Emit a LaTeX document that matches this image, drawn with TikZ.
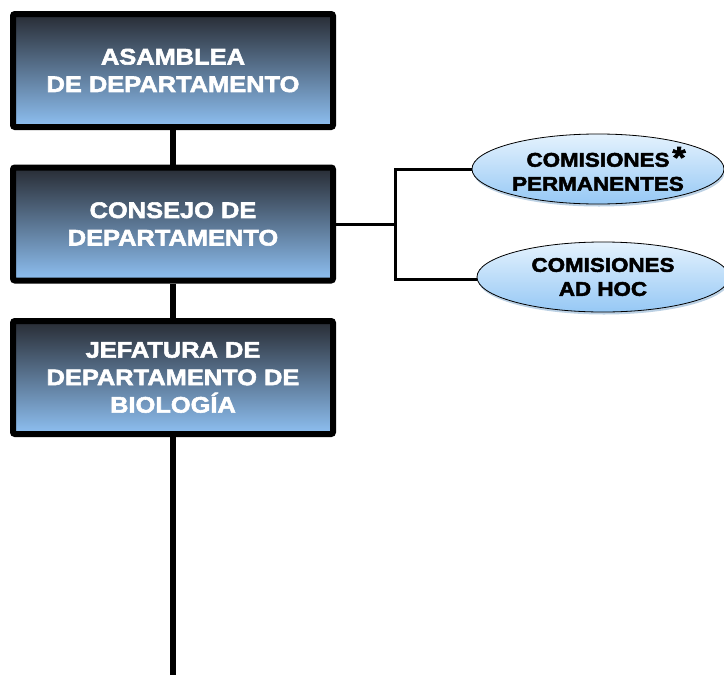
\documentclass[tikz,border=0pt]{standalone}
\usepackage{fontspec}
\newfontfamily\orgfont[FakeStretch=1.13,FakeBold=2.5]{Liberation Sans Bold}
\usetikzlibrary{shadows,shapes.geometric}
\definecolor{boxtop}{RGB}{40,44,52}
\definecolor{boxmid}{RGB}{88,114,144}
\definecolor{boxbot}{RGB}{142,192,242}
\definecolor{elltop}{RGB}{228,242,253}
\definecolor{ellbot}{RGB}{150,200,245}
\begin{document}
\begin{tikzpicture}[x=1pt,y=-1pt]
    \tikzstyle{orgbox}=[draw=black,line width=6pt,rounded corners=2pt,
      top color=boxtop,middle color=boxmid,bottom color=boxbot,
      minimum width=320pt,minimum height=113pt,inner sep=0pt,
      text=white,align=center,font=\orgfont\fontsize{22.5}{27.5}\selectfont]
    \tikzstyle{comision}=[ellipse,draw=black,line width=0.8pt,
      top color=elltop,bottom color=ellbot,
      drop shadow={shadow xshift=1pt,shadow yshift=-2.5pt,fill=ellbot!70!gray,opacity=0.6},
      minimum width=252pt,minimum height=70pt,inner sep=0pt,
      align=center,font=\orgfont\fontsize{19.8}{24}\selectfont]
    \useasboundingbox (0,0) rectangle (724,675);
    \node [orgbox] (asamblea) at (173,70.5) {ASAMBLEA\\DE DEPARTAMENTO};
    \node [orgbox] (consejo) at (173,224) {CONSEJO DE\\DEPARTAMENTO};
    \node [orgbox] (jefatura) at (173,377.5) {JEFATURA DE\\DEPARTAMENTO DE\\BIOLOGÍA};
    \node [comision] (permanentes) at (598,169) {COMISIONES\rlap{\kern3pt\fontsize{30}{30}\selectfont\raisebox{-1pt}{*}}\\PERMANENTES};
    \node [comision] (adhoc) at (603,277) {COMISIONES\\AD HOC};
    \coordinate (fondo) at (173,675);
    % lineas
    \draw [black,line width=6pt] (asamblea) -- (consejo);
    \draw [black,line width=6pt] (consejo) -- (jefatura);
    \draw [black,line width=6pt] (jefatura.south) -- (fondo);
    \draw [black,line width=3pt] (consejo.east) -- ++(59,0) coordinate (rama);
    \draw [black,line width=3pt] (permanentes.west) -| (rama) |- ([yshift=-2pt]adhoc.west);
\end{tikzpicture}
\end{document}
